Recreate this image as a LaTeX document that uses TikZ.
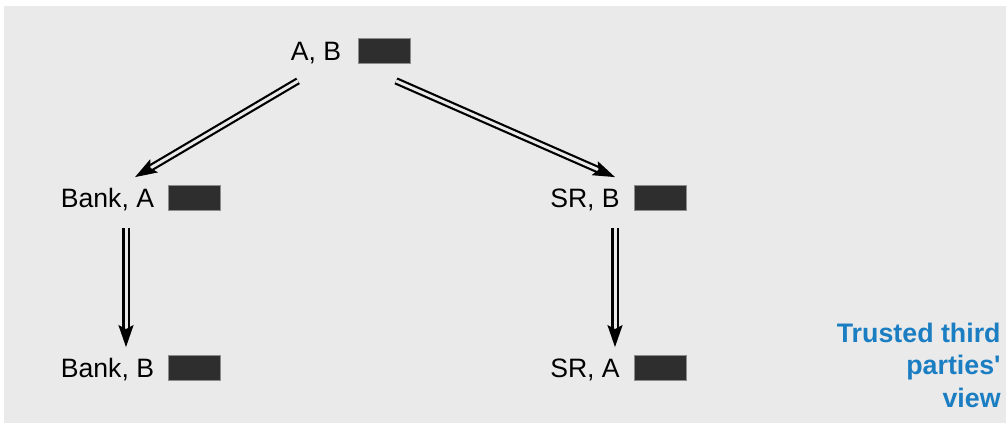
\documentclass[tikz,border=0pt]{standalone}
\usepackage{fontspec}
\setmainfont{Liberation Sans}
\usepackage{tikz}
\usetikzlibrary{arrows.meta,positioning}
\definecolor{panelgray}{HTML}{EAEAEA}
\definecolor{tagblack}{HTML}{2E2E2E}
\definecolor{ttpblue}{HTML}{1B7EC2}
\tikzset{
  party/.style={
    inner sep=0pt,
    text height=9.5pt,
    text depth=0pt,
    font=\fontsize{13.3}{16}\selectfont
  },
  tag/.style={
    rectangle,
    draw=black!45,
    fill=tagblack,
    line width=0.4pt,
    minimum width=26pt,
    minimum height=12.4pt,
    inner sep=0pt
  },
  ttp/.style={
    inner sep=0pt,
    align=right,
    text=ttpblue,
    font=\bfseries\fontsize{13.4}{16.25}\selectfont
  },
  dblarrow/.style={
    double=panelgray,
    double distance=1.5pt,
    line width=1.1pt,
    -{Stealth[length=11pt,width=7.5pt,inset=2pt]}
  }
}

\begin{document}
\begin{tikzpicture}[x=0.5pt,y=-0.5pt,node distance=7pt]

\useasboundingbox (0,0) rectangle (1006,423);
\fill[panelgray] (4,6) rectangle (1006,423);

\node[party] (ab) at (316,50.5) {A, B};
\node[tag, right=8pt of ab] (abtag) {};

\node[party] (bankA) at (107.5,197.5) {Bank, A};
\node[tag, right=of bankA] (bankAtag) {};

\node[party] (srB) at (585,197.5) {SR, B};
\node[tag, right=of srB] (srBtag) {};

\node[party] (bankB) at (107.5,367.5) {Bank, B};
\node[tag, right=of bankB] (bankBtag) {};

\node[party] (srA) at (585,367.5) {SR, A};
\node[tag, right=of srA] (srAtag) {};

\node[ttp, anchor=north east] (ttpview) at (1001,322.5) {Trusted third\\parties\textquotesingle\\view};

\draw[dblarrow] ([shift={(-18,20.5)}]ab.south) -- ([shift={(27.5,-10.5)}]bankA.north);
\draw[dblarrow] ([shift={(80,20.5)}]ab.south) -- ([shift={(30,-10.5)}]srB.north);
\draw[dblarrow] ([shift={(18.5,20.5)}]bankA.south) -- ([shift={(18.5,-10.5)}]bankB.north);
\draw[dblarrow] ([shift={(30,20.5)}]srB.south) -- ([shift={(30,-10.5)}]srA.north);

\end{tikzpicture}
\end{document}
